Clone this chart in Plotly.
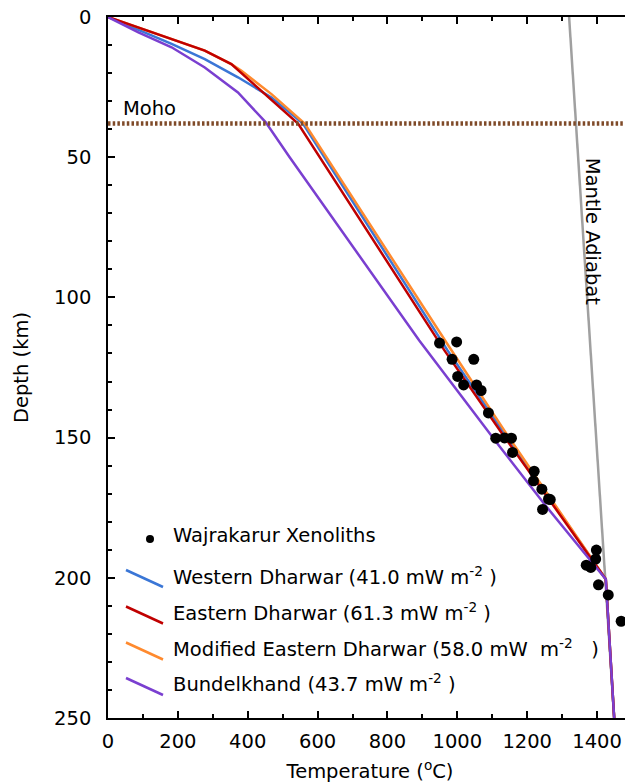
import plotly.graph_objects as go

# ---------------- data ----------------
western_T = [0, 182, 277, 372, 468, 558, 972, 1136, 1425, 1449]
western_z = [0, 9.6, 15, 21.5, 28.7, 38, 118.9, 148.7, 200.5, 250]

eastern_T = [0, 182, 277, 353, 439, 544, 963, 1129, 1425, 1449]
eastern_z = [0, 7.9, 12, 16.8, 26.3, 38, 118.9, 148.7, 200.5, 250]

modified_T = [0, 182, 277, 353, 382, 468, 563, 977, 1140, 1425, 1449]
modified_z = [0, 7.9, 12, 16.8, 19.2, 27.5, 38, 117.7, 148.5, 200.5, 250]

bundel_T = [0, 87, 182, 277, 372, 451, 520, 891, 1120, 1253, 1425, 1449]
bundel_z = [0, 5.5, 10.8, 18, 26.9, 37.5, 50, 115.4, 153, 174.3, 200.5, 250]

adiabat_T = [1320, 1449]
adiabat_z = [0, 250]

xeno_T = [949, 998, 985, 1047, 1001, 1018, 1055, 1068, 1089, 1110, 1135, 1155,
          1158, 1220, 1218, 1242, 1261, 1266, 1244, 1398, 1396, 1369, 1382,
          1404, 1432, 1469]
xeno_z = [116.3, 115.9, 122.1, 122.1, 128.2, 131.2, 131.2, 133.2, 141.2, 150.2,
          150.1, 150.2, 155.3, 162, 165.4, 168.4, 171.9, 172.1, 175.6, 190.1,
          193.3, 195.5, 196.3, 202.5, 206.1, 215.5]

moho_depth = 38

NB = "\u00a0"
legend_labels = [
    "Western Dharwar (41.0 mW m<sup>-2</sup> )",
    "Eastern Dharwar (61.3 mW m<sup>-2</sup> )",
    "Modified Eastern Dharwar (58.0 mW" + NB * 2 + "m<sup>-2</sup>" + NB * 3 + ")",
    "Bundelkhand (43.7 mW m<sup>-2</sup> )",
]
xeno_label = "Wajrakarur Xenoliths"

x_ticks = [0, 200, 400, 600, 800, 1000, 1200, 1400]
y_ticks = [0, 50, 100, 150, 200, 250]

# ---------------- style ----------------
C_BLUE = "#3a76d6"
C_RED = "#c00000"
C_ORANGE = "#ff8a2e"
C_PURPLE = "#7a3fd0"
C_GRAY = "#a0a0a0"
C_MOHO = "#7f4a28"
FONT = "DejaVu Sans"
FS = 19.5
FS_TICK = 19.5

# page has an 8px body margin; figure sized to land the plot box where the reference has it
OFF = 8
W, H = 625, 776
ML, MR, MT, MB = 100, 1, 9, 66
PW, PH = W - ML - MR, H - MT - MB


def px(x):
    # reference page pixel -> paper x
    return (x - OFF - ML) / PW


def py(y):
    # reference page pixel -> paper y
    return (H - MB - (y - OFF)) / PH


fig = go.Figure()
fig.add_trace(go.Scatter(x=adiabat_T, y=adiabat_z, mode="lines",
                         line=dict(color=C_GRAY, width=2.5), showlegend=False))
fig.add_trace(go.Scatter(x=western_T, y=western_z, mode="lines",
                         line=dict(color=C_BLUE, width=2.5), showlegend=False))
fig.add_trace(go.Scatter(x=modified_T, y=modified_z, mode="lines",
                         line=dict(color=C_ORANGE, width=2.5), showlegend=False))
fig.add_trace(go.Scatter(x=eastern_T, y=eastern_z, mode="lines",
                         line=dict(color=C_RED, width=2.5), showlegend=False))
fig.add_trace(go.Scatter(x=bundel_T, y=bundel_z, mode="lines",
                         line=dict(color=C_PURPLE, width=2.5), showlegend=False))
fig.add_trace(go.Scatter(x=xeno_T, y=xeno_z, mode="markers",
                         marker=dict(color="black", size=11), showlegend=False))

# Moho line
fig.add_shape(type="line", xref="paper", x0=0, x1=1, yref="y",
              y0=moho_depth, y1=moho_depth,
              line=dict(color=C_MOHO, width=4.5, dash="2.5px,2.2px"))

annotations = [
    dict(x=37, y=32.5, xref="x", yref="y", text="Moho", showarrow=False,
         xanchor="left", yanchor="middle", font=dict(size=FS)),
    dict(x=1386, y=76.3, xref="x", yref="y", text="Mantle Adiabat",
         showarrow=False, textangle=90, xanchor="center", yanchor="middle",
         font=dict(size=FS)),
]

# manual legend
fig.add_shape(type="circle", xref="paper", yref="paper",
              xsizemode="pixel", ysizemode="pixel",
              xanchor=px(150), yanchor=py(539),
              x0=-4, x1=4, y0=-4, y1=4,
              fillcolor="black", line=dict(color="black", width=0))
annotations.append(dict(x=px(171), y=py(535), xref="paper", yref="paper",
                        text=xeno_label, showarrow=False, xanchor="left",
                        yanchor="middle", font=dict(size=FS)))
leg_colors = [C_BLUE, C_RED, C_ORANGE, C_PURPLE]
leg_y = [570, 606.5, 642.5, 678]
text_y = [576, 612, 648, 683]
for lab, col, ly, ty in zip(legend_labels, leg_colors, leg_y, text_y):
    fig.add_shape(type="line", xref="paper", yref="paper",
                  x0=px(126), x1=px(163), y0=py(ly), y1=py(ly + 17),
                  line=dict(color=col, width=2.5))
    annotations.append(dict(x=px(171), y=py(ty), xref="paper", yref="paper",
                            text=lab, showarrow=False, xanchor="left",
                            yanchor="middle", font=dict(size=FS)))

axis_common = dict(
    showline=True, linecolor="black", linewidth=1.5, mirror="ticks",
    ticks="inside", ticklen=7, tickwidth=1.5, tickcolor="black",
    showgrid=False, zeroline=False, ticklabeloverflow="allow",
    tickfont=dict(family=FONT, size=FS_TICK, color="black"),
)

fig.update_layout(
    width=W, height=H,
    margin=dict(l=ML, r=MR, t=MT, b=MB, autoexpand=False),
    paper_bgcolor="white", plot_bgcolor="white",
    font=dict(family=FONT, size=FS, color="black"),
    showlegend=False,
    annotations=annotations,
    xaxis=dict(range=[0, 1500], tickvals=x_ticks, ticklabelstandoff=5,
               minor=dict(dtick=100, tick0=0, ticks="inside", ticklen=4,
                          tickwidth=1.5, tickcolor="black", showgrid=False),
               title=dict(text="Temperature (<sup>o</sup>C)",
                          font=dict(family=FONT, size=FS), standoff=12),
               **axis_common),
    yaxis=dict(range=[250, 0], tickvals=y_ticks, ticklabelstandoff=11,
               minor=dict(dtick=10, tick0=0, ticks="inside", ticklen=4,
                          tickwidth=1.5, tickcolor="black", showgrid=False),
               title=dict(text="Depth (km)",
                          font=dict(family=FONT, size=FS), standoff=20),
               **axis_common),
)

fig.write_html("out.html")
